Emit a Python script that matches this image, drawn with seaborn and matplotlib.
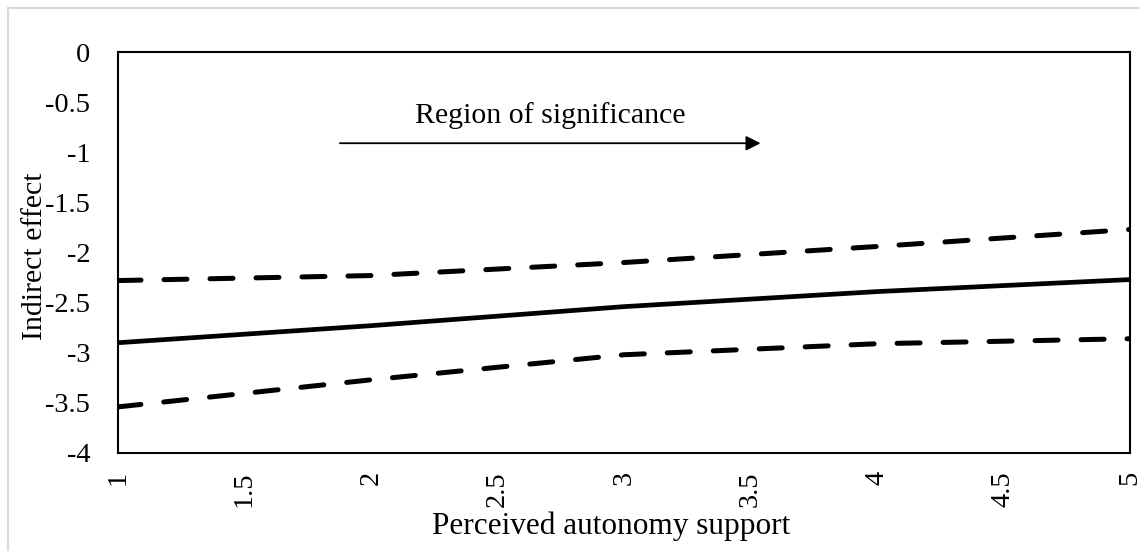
import matplotlib
matplotlib.use("Agg")
import matplotlib.pyplot as plt
import matplotlib.patches as mpatches
import seaborn as sns
import pandas as pd

# ---- data ----
support = [1, 2, 3, 4, 5]
indirect_effect = [-2.90, -2.73, -2.54, -2.39, -2.27]
upper_ci = [-2.28, -2.23, -2.10, -1.94, -1.77]
lower_ci = [-3.54, -3.27, -3.02, -2.91, -2.86]

x_ticks = [1, 1.5, 2, 2.5, 3, 3.5, 4, 4.5, 5]
x_tick_labels = ["1", "1.5", "2", "2.5", "3", "3.5", "4", "4.5", "5"]
y_ticks = [0, -0.5, -1, -1.5, -2, -2.5, -3, -3.5, -4]
y_tick_labels = ["0", "-0.5", "-1", "-1.5", "-2", "-2.5", "-3", "-3.5", "-4"]

x_label = "Perceived autonomy support"
y_label = "Indirect effect"
annotation_text = "Region of significance"
region_start = 1.877
region_end = 3.54

sns.set_theme(style="white")
plt.rcParams["font.family"] = ["Liberation Serif", "DejaVu Serif"]
plt.rcParams["axes.unicode_minus"] = False
plt.rcParams["text.color"] = "black"
plt.rcParams["axes.labelcolor"] = "black"
plt.rcParams["xtick.color"] = "black"
plt.rcParams["ytick.color"] = "black"

fig = plt.figure(figsize=(11.4, 5.51), dpi=100)
ax = fig.add_axes([118 / 1140, 1 - 453 / 551, (1130 - 118) / 1140, (453 - 52) / 551])

df = pd.DataFrame({"support": support, "effect": indirect_effect,
                   "upper": upper_ci, "lower": lower_ci})

sns.lineplot(data=df, x="support", y="effect", ax=ax, color="black",
             linewidth=3.4, solid_capstyle="butt")
for col in ["upper", "lower"]:
    sns.lineplot(data=df, x="support", y=col, ax=ax, color="black",
                 linewidth=3.6)
lines = ax.get_lines()
for ln in lines[1:]:
    ln.set_linestyle((0, (4.6, 4.6)))
    ln.set_dash_capstyle("round")

ax.set_xlim(1, 5)
ax.set_ylim(-4, 0)
ax.set_xticks(x_ticks)
ax.set_xticklabels(x_tick_labels, rotation=90, fontsize=20.5)
ax.set_yticks(y_ticks)
ax.set_yticklabels(y_tick_labels, fontsize=20.5)
ax.tick_params(axis="both", length=0)
ax.tick_params(axis="y", pad=20)
ax.tick_params(axis="x", pad=13)
ax.set_xlabel(x_label, fontsize=22.5)
ax.set_ylabel(y_label, fontsize=21.5)
ax.xaxis.set_label_coords(0.487, -0.147)
ax.yaxis.set_label_coords(-0.069, 0.49)

for sp in ax.spines.values():
    sp.set_color("black")
    sp.set_linewidth(1.5)
    sp.set_visible(True)

ax.annotate("", xy=(region_end, -0.91), xytext=(region_start, -0.91),
            arrowprops=dict(arrowstyle="-|>", color="black", lw=1.3,
                            mutation_scale=22, shrinkA=0, shrinkB=0))
ax.text((region_start + region_end) / 2, -0.63, annotation_text,
        ha="center", va="center", fontsize=21.5)

# light grey outer frame
fig.patches.append(mpatches.Rectangle((8 / 1140, -0.05), 1.2, 1 - 8 / 551 + 0.05,
                                      transform=fig.transFigure, fill=False,
                                      edgecolor="#d9d9d9", linewidth=1.5))

fig.savefig("out.png", dpi=100)
